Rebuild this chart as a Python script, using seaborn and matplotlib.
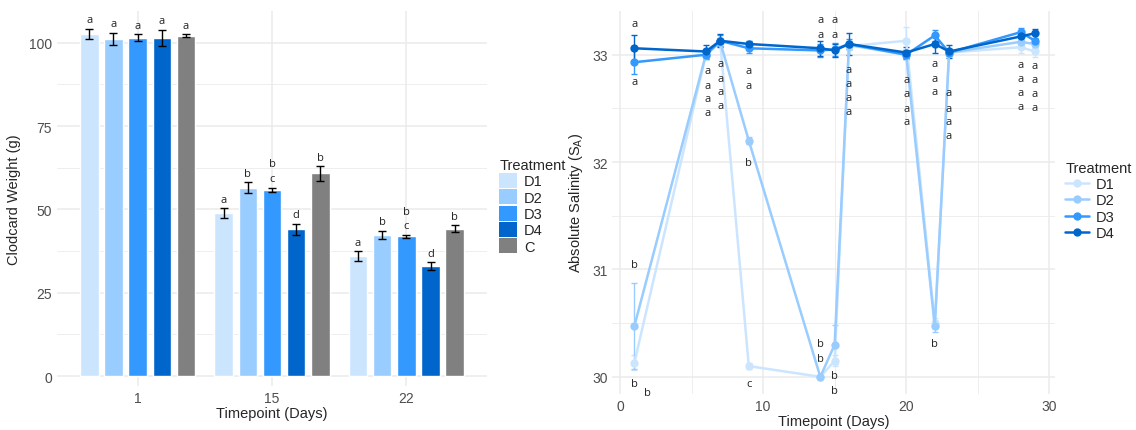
import numpy as np
import pandas as pd
import matplotlib
matplotlib.use("Agg")
import matplotlib.pyplot as plt
from matplotlib.patches import Patch
import seaborn as sns

# ---------------- data: clodcard weight ----------------
treatments_w = ["D1", "D2", "D3", "D4", "C"]
timepoints_w = ["1", "15", "22"]
weight_mean = {
    "D1": [102.7, 48.8, 35.9],
    "D2": [101.2, 56.5, 42.4],
    "D3": [101.5, 55.9, 41.9],
    "D4": [101.5, 44.0, 32.9],
    "C":  [102.1, 60.8, 44.2],
}
weight_se = {
    "D1": [1.5, 1.5, 1.5],
    "D2": [1.75, 1.65, 1.15],
    "D3": [1.0, 0.65, 0.4],
    "D4": [2.4, 1.7, 1.2],
    "C":  [0.4, 2.15, 1.05],
}
weight_letters = {
    "D1": ["a", "a", "a"],
    "D2": ["a", "b", "b"],
    "D3": ["a", "b\nc", "b\nc"],
    "D4": ["a", "d", "d"],
    "C":  ["a", "b", "b"],
}

# ---------------- data: absolute salinity ----------------
treatments_s = ["D1", "D2", "D3", "D4"]
days = [1, 6, 7, 9, 14, 15, 16, 20, 22, 23, 28, 29]
salinity = {
    "D1": [30.13, 33.00, 33.12, 30.10, 30.00, 30.15, 33.08, 33.13, 30.50, 33.02, 33.07, 33.03],
    "D2": [30.47, 33.00, 33.12, 32.20, 30.00, 30.30, 33.09, 33.00, 30.47, 33.02, 33.12, 33.10],
    "D3": [32.93, 33.00, 33.13, 33.06, 33.04, 33.05, 33.10, 33.00, 33.18, 33.02, 33.21, 33.13],
    "D4": [33.06, 33.03, 33.13, 33.10, 33.06, 33.04, 33.10, 33.02, 33.10, 33.03, 33.17, 33.20],
}
salinity_se = {
    "D1": [0.07, 0.04, 0.04, 0.03, 0.02, 0.05, 0.04, 0.13, 0.05, 0.03, 0.05, 0.05],
    "D2": [0.40, 0.04, 0.04, 0.03, 0.02, 0.18, 0.04, 0.04, 0.05, 0.03, 0.04, 0.04],
    "D3": [0.11, 0.04, 0.05, 0.04, 0.06, 0.06, 0.05, 0.04, 0.05, 0.03, 0.04, 0.05],
    "D4": [0.12, 0.06, 0.06, 0.03, 0.07, 0.06, 0.10, 0.05, 0.08, 0.06, 0.05, 0.04],
}
# significance letters shown on the salinity panel (day, height, letter)
sal_letter_day = [1, 1, 1, 1, 1.9,
                  6.1, 6.1, 6.1, 6.1,
                  7, 7, 7, 7,
                  9, 9, 9, 9,
                  14, 14, 14, 14,
                  15, 15, 15, 15,
                  16, 16, 16, 16,
                  20, 20, 20, 20,
                  22, 22, 22, 22,
                  23, 23, 23, 23,
                  28, 28, 28, 28,
                  29, 29, 29, 29]
sal_letter_y = [33.29, 32.75, 31.05, 29.94, 29.85,
                32.85, 32.71, 32.59, 32.46,
                32.92, 32.78, 32.66, 32.53,
                32.85, 32.71, 32.00, 29.94,
                33.33, 33.19, 30.31, 30.17,
                33.33, 33.19, 30.01, 29.875,
                32.86, 32.73, 32.60, 32.47,
                32.77, 32.64, 32.50, 32.38,
                32.92, 32.78, 32.66, 30.31,
                32.65, 32.50, 32.38, 32.25,
                32.91, 32.78, 32.65, 32.52,
                32.90, 32.77, 32.64, 32.51]
sal_letter_txt = ["a", "a", "b", "b", "b",
                  "a", "a", "a", "a",
                  "a", "a", "a", "a",
                  "a", "a", "b", "c",
                  "a", "a", "b", "b",
                  "a", "a", "b", "b",
                  "a", "a", "a", "a",
                  "a", "a", "a", "a",
                  "a", "a", "a", "b",
                  "a", "a", "a", "a",
                  "a", "a", "a", "a",
                  "a", "a", "a", "a"]

palette = {"D1": "#CCE5FF", "D2": "#99CCFF", "D3": "#3399FF", "D4": "#0066CC", "C": "#808080"}

# ---------------- style ----------------
sns.set_theme(style="white")
plt.rcParams["font.family"] = ["Liberation Sans", "DejaVu Sans"]
plt.rcParams["mathtext.default"] = "regular"
GRID = "#EBEBEB"
TICK_C = "#4D4D4D"

fig = plt.figure(figsize=(11.36, 4.31), dpi=100)
ax1 = fig.add_axes([57 / 1136, 1 - 387 / 431, 430 / 1136, 375.3 / 431])
ax2 = fig.add_axes([611.7 / 1136, 1 - 395 / 431, 443.3 / 1136, 383.3 / 431])


def style_axes(ax):
    for s in ax.spines.values():
        s.set_visible(False)
    ax.set_axisbelow(True)
    ax.grid(True, which="major", color=GRID, linewidth=1.1)
    ax.grid(True, which="minor", color=GRID, linewidth=0.6)
    ax.tick_params(which="both", length=0, labelsize=10, labelcolor=TICK_C)


# ---------------- left: bar chart ----------------
rows = []
for t in treatments_w:
    for i, tp in enumerate(timepoints_w):
        rows.append({"Timepoint": tp, "Treatment": t,
                     "Weight": weight_mean[t][i], "SE": weight_se[t][i],
                     "Letter": weight_letters[t][i]})
df_w = pd.DataFrame(rows)

sns.barplot(data=df_w, x="Timepoint", y="Weight", hue="Treatment",
            order=timepoints_w, hue_order=treatments_w, palette=palette,
            width=0.9, gap=0.23, saturation=1, errorbar=None, legend=False, ax=ax1)

for t, cont in zip(treatments_w, ax1.containers):
    sub = df_w[df_w["Treatment"] == t].set_index("Timepoint").loc[timepoints_w]
    xs = [b.get_x() + b.get_width() / 2 for b in cont]
    ax1.errorbar(xs, sub["Weight"], yerr=sub["SE"], fmt="none", ecolor="black",
                 elinewidth=1.0, capsize=3, capthick=1.0, zorder=4)
    for x, m, e, lab in zip(xs, sub["Weight"], sub["SE"], sub["Letter"]):
        ax1.text(x, m + e + 1.1, lab, ha="center", va="bottom", fontsize=8,
                 color="#222222", linespacing=1.45, family=["Open Sans", "DejaVu Sans"])

style_axes(ax1)
ax1.set_xlim(-0.6, 2.6)
ax1.set_ylim(-3.0, 109.6)
ax1.set_yticks([0, 25, 50, 75, 100])
ax1.set_yticks([12.5, 37.5, 62.5, 87.5], minor=True)
ax1.tick_params(axis="y", pad=3.5)
ax1.tick_params(axis="x", pad=3.5)
ax1.set_xlabel("Timepoint (Days)", fontsize=10.5, labelpad=1)
ax1.set_ylabel("Clodcard Weight (g)", fontsize=10.5, labelpad=6)

handles = [Patch(facecolor=palette[t], edgecolor="none") for t in treatments_w]
leg1 = ax1.legend(handles, treatments_w, title="Treatment", loc="center left",
                  bbox_to_anchor=(1.015, 0.48), frameon=False, fontsize=10.5,
                  title_fontsize=10.5, handlelength=1.2, handleheight=1.2,
                  labelspacing=0.06, handletextpad=0.5, borderaxespad=0)
leg1._legend_box.align = "left"

# ---------------- right: salinity time series ----------------
rows = []
for t in treatments_s:
    for d, v, e in zip(days, salinity[t], salinity_se[t]):
        rows.append({"Day": d, "Treatment": t, "Salinity": v, "SE": e})
df_s = pd.DataFrame(rows)

sns.lineplot(data=df_s, x="Day", y="Salinity", hue="Treatment", hue_order=treatments_s,
             palette=palette, marker="o", markersize=6, markeredgewidth=0,
             linewidth=1.8, errorbar=None, ax=ax2)
for t in treatments_s:
    sub = df_s[df_s["Treatment"] == t]
    ax2.errorbar(sub["Day"], sub["Salinity"], yerr=sub["SE"], fmt="none",
                 ecolor=palette[t], elinewidth=1.0, capsize=2, capthick=1.0, zorder=1.5)

for d, y, s in zip(sal_letter_day, sal_letter_y, sal_letter_txt):
    ax2.text(d, y, s, ha="center", va="center", fontsize=8, color="#222222",
             family=["Open Sans", "DejaVu Sans"])

style_axes(ax2)
ax2.set_xlim(-0.58, 30.4)
ax2.set_ylim(29.84, 33.41)
ax2.set_xticks([0, 10, 20, 30])
ax2.set_xticks([5, 15, 25], minor=True)
ax2.set_yticks([30, 31, 32, 33])
ax2.set_yticks([30.5, 31.5, 32.5], minor=True)
ax2.tick_params(axis="y", pad=3)
ax2.tick_params(axis="x", pad=3.5)
ax2.set_xlabel("Timepoint (Days)", fontsize=10.5, labelpad=0.5)
ax2.set_ylabel("Absolute Salinity (S$_A$)", fontsize=10.5, labelpad=5)

h, l = ax2.get_legend_handles_labels()
leg2 = ax2.legend(h, l, title="Treatment", loc="center left",
                  bbox_to_anchor=(1.01, 0.505), frameon=False, fontsize=10.5,
                  title_fontsize=10.5, handlelength=1.6, labelspacing=0.15,
                  handletextpad=0.5, borderaxespad=0)
leg2._legend_box.align = "left"

fig.savefig("out.png", dpi=100)
